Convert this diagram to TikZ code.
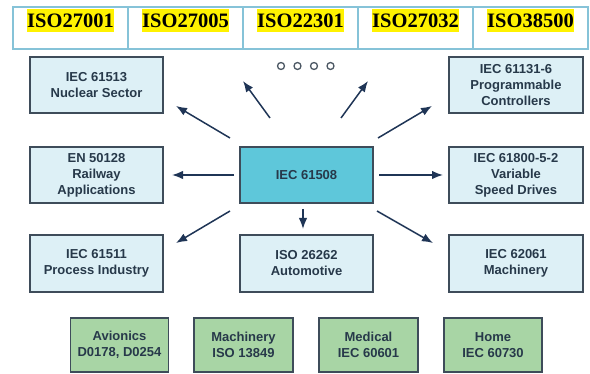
\documentclass[tikz,border=0pt]{standalone}
\usepackage{fontspec}
\setmainfont{Liberation Serif}
\newfontfamily\arialf{Liberation Sans}
\usetikzlibrary{arrows.meta}
\definecolor{bandline}{HTML}{86C3D8}
\definecolor{boxline}{HTML}{3E4C5A}
\definecolor{lightfill}{HTML}{DDF0F6}
\definecolor{centerfill}{HTML}{5EC7DA}
\definecolor{greenfill}{HTML}{A8D5A5}
\definecolor{txt}{HTML}{27394A}
\definecolor{arrowc}{HTML}{1F3556}
\definecolor{dotc}{HTML}{4C5864}
\tikzset{
  cell/.style={draw=bandline, line width=1.5pt, minimum width=115pt, minimum height=42pt, inner sep=0pt},
  isolabel/.style={fill=yellow, font=\bfseries\fontsize{20.5}{22}\selectfont, text=black, inner xsep=0.5pt, inner ysep=1.5pt, text height=17pt, text depth=3pt, anchor=base},
  stdbox/.style={draw=boxline, line width=1.2pt, fill=lightfill, minimum width=133pt, minimum height=56pt, inner sep=0pt, align=center, text=txt, font=\arialf\bfseries\fontsize{13}{16}\selectfont},
  centerbox/.style={stdbox, fill=centerfill},
  greenbox/.style={stdbox, fill=greenfill, minimum width=98pt, minimum height=54pt},
  arr/.style={draw=arrowc, line width=1.5pt, -{Latex[length=11pt,width=8.5pt]}},
  dot/.style={draw=dotc, line width=1.3pt, circle, minimum size=7pt, inner sep=0pt}
}
\begin{document}
\begin{tikzpicture}[x=1pt,y=-1pt]
\useasboundingbox (0,0) rectangle (590,374);
% top band
\node[cell] (c1) at (70.5,28) {};
\node[cell] (c2) at (185.5,28) {};
\node[cell] (c3) at (300.5,28) {};
\node[cell] (c4) at (415.5,28) {};
\node[cell] (c5) at (530.5,28) {};
\node[isolabel] (t1) at (70.5,28) {ISO27001};
\node[isolabel] (t2) at (185.5,28) {ISO27005};
\node[isolabel] (t3) at (300.5,28) {ISO22301};
\node[isolabel] (t4) at (415.5,28) {ISO27032};
\node[isolabel] (t5) at (530.5,28) {ISO38500};
% boxes
\node[stdbox] (n61513) at (96.5,85) {IEC 61513\\Nuclear Sector};
\node[stdbox] (n50128) at (96.5,175) {EN 50128\\Railway\\Applications};
\node[stdbox, minimum height=57pt] (n61511) at (96.5,263.5) {IEC 61511\\Process Industry};
\node[centerbox] (n61508) at (306.5,175) {IEC 61508};
\node[stdbox, minimum height=57pt] (n26262) at (306.5,263.5) {ISO 26262\\Automotive};
\node[stdbox, minimum width=134pt] (n61131) at (516,85) {IEC 61131-6\\Programmable\\Controllers};
\node[stdbox, minimum width=134pt] (n61800) at (516,175) {IEC 61800-5-2\\Variable\\Speed Drives};
\node[stdbox, minimum width=134pt, minimum height=57pt] (n62061) at (516,263.5) {IEC 62061\\Machinery};
% green boxes
\node[greenbox] (gav) at (119.5,345) {Avionics\\D0178, D0254};
\node[greenbox, minimum width=99pt] (gma) at (243.5,345) {Machinery\\ISO 13849};
\node[greenbox, minimum width=99pt] (gme) at (368.5,345) {Medical\\IEC 60601};
\node[greenbox] (gho) at (493,345) {Home\\IEC 60730};
% dots
\node[dot] (d1) at (281,66) {};
\node[dot] (d2) at (297.5,66) {};
\node[dot] (d3) at (314,66) {};
\node[dot] (d4) at (330.5,66) {};
% arrow end coordinates
\coordinate (s1) at (270,118); \coordinate (e1) at (243,81);
\coordinate (s2) at (341,118); \coordinate (e2) at (368,81);
\coordinate (s3) at (230,138); \coordinate (e3) at (176,106);
\coordinate (s4) at (234,175); \coordinate (e4) at (172,175);
\coordinate (s5) at (378,138); \coordinate (e5) at (432,106);
\coordinate (s6) at (379,175); \coordinate (e6) at (443,175);
\coordinate (s7) at (230,211); \coordinate (e7) at (176,243);
\coordinate (s8) at (303,209); \coordinate (e8) at (303,229);
\coordinate (s9) at (377,211); \coordinate (e9) at (433,243);
\foreach \i in {1,...,9} { \draw[arr] (s\i) -- (e\i); }
\end{tikzpicture}
\end{document}
